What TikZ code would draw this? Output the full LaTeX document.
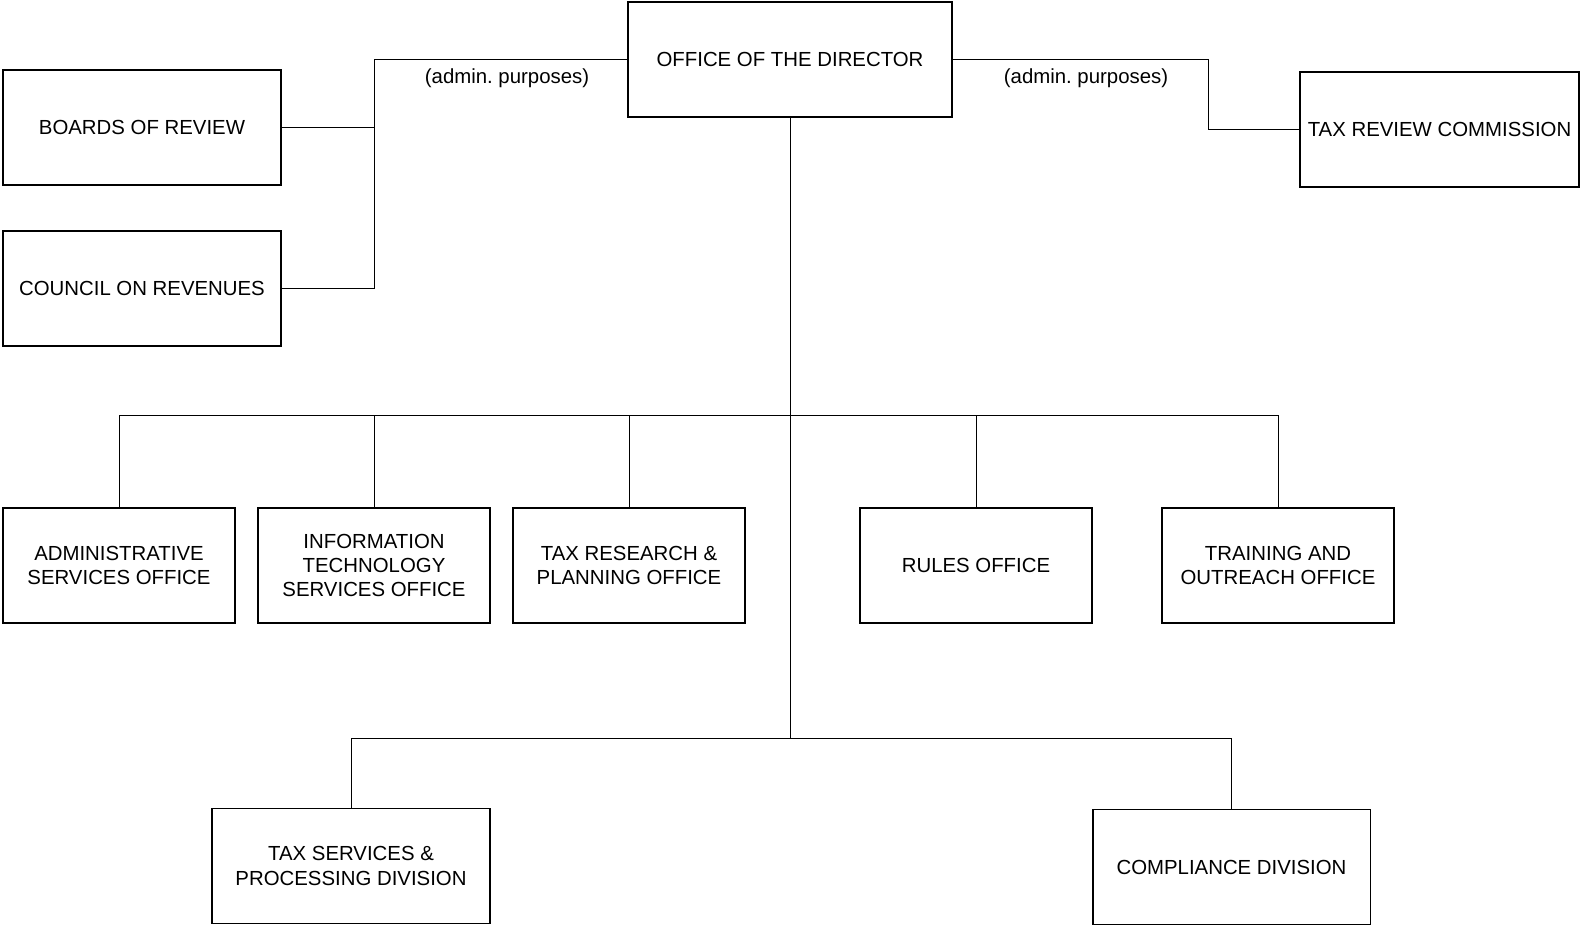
\documentclass[tikz,border=0pt]{standalone}
\usepackage{fontspec}
\setmainfont{Liberation Sans}
\tikzset{
  unit/.style={draw, line width=1.1pt, align=center, minimum height=2.3cm, inner sep=2pt,
               font=\fontsize{11.6}{13.8}\selectfont},
  wide/.style={unit, minimum width=5.56cm},
  narrow/.style={unit, minimum width=4.64cm},
  link/.style={line width=0.55pt},
  note/.style={font=\fontsize{11.6}{13.8}\selectfont}
}
\begin{document}
\begin{tikzpicture}[x=0.02cm, y=-0.02cm]
            \useasboundingbox (0, 0) rectangle (1581, 926);
            % top row
            \node[unit, minimum width=6.48cm] (dir) at (790, 59.5) {OFFICE OF THE DIRECTOR};
            \node[wide] (bor) at (142, 127.5) {BOARDS OF REVIEW};
            \node[wide] (cor) at (142, 288.5) {COUNCIL ON REVENUES};
            \node[wide, minimum width=5.58cm] (trc) at (1439.5, 129.5) {TAX REVIEW COMMISSION};
            \node[note] (lnote) at (507, 78) {(admin.\ purposes)};
            \node[note] (rnote) at (1086, 78) {(admin.\ purposes)};
            % offices
            \node[narrow] (adm) at (119, 565.5) {ADMINISTRATIVE\\SERVICES OFFICE};
            \node[narrow] (its) at (374, 565.5) {INFORMATION\\TECHNOLOGY\\SERVICES OFFICE};
            \node[narrow] (trp) at (629, 565.5) {TAX RESEARCH \&\\PLANNING OFFICE};
            \node[narrow] (rul) at (976, 565.5) {RULES OFFICE};
            \node[narrow] (tno) at (1278, 565.5) {TRAINING AND\\OUTREACH OFFICE};
            % divisions
            \node[wide] (tsp) at (351, 866) {TAX SERVICES \&\\PROCESSING DIVISION};
            \node[wide] (cmp) at (1231.5, 867) {COMPLIANCE DIVISION};
            % connectors
            \coordinate (ltop) at (374, 59.5);
            \coordinate (rtop) at (1208, 59.5);
            \coordinate (mbus) at (790, 415);
            \coordinate (bbus) at (790, 738);
            \draw[link] (dir.west) -- (ltop) |- (cor.east);
            \draw[link] (bor.east) -- (bor.east -| ltop);
            \draw[link] (dir.east) -- (rtop) |- (trc.west);
            \draw[link] (dir.south) -- (bbus);
            \draw[link] (adm.north |- mbus) -- (tno.north |- mbus);
            \foreach \n in {adm, its, trp, rul, tno}
                \draw[link] (\n.north) -- (\n.north |- mbus);
            \draw[link] (tsp.north) |- (bbus) -| (cmp.north);
\end{tikzpicture}
\end{document}
